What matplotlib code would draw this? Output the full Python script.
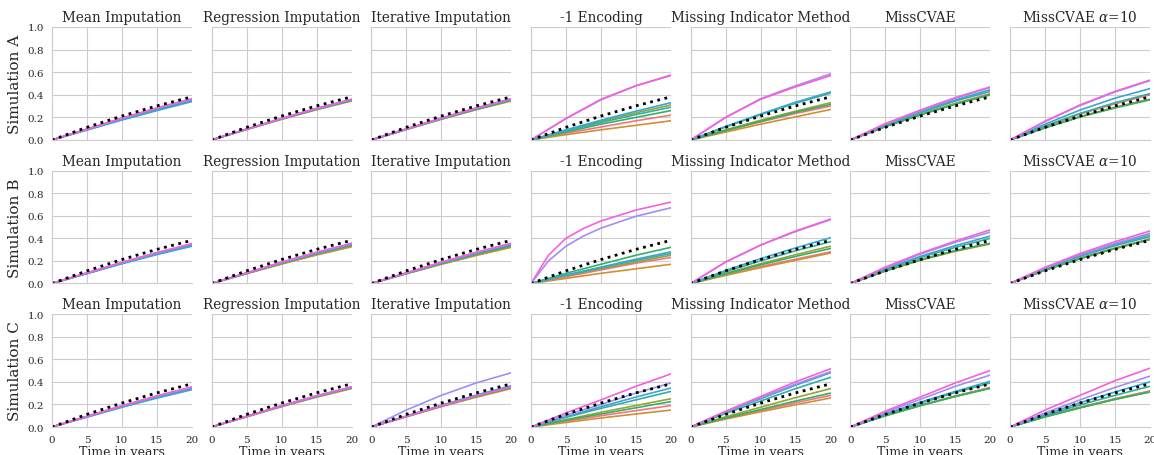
import matplotlib
matplotlib.use("Agg")
import matplotlib.pyplot as plt
import seaborn as sns

sns.set_style("whitegrid")
plt.rcParams["font.family"] = ["DejaVu Serif"]
plt.rcParams["mathtext.fontset"] = "dejavuserif"

# Risque cumulé évalué à t = 0, 5, 10, 15, 20 ans
years = [0, 5, 10, 15, 20]
# grille plus fine pour le panneau -1 Encoding / Simulation B (courbes très concaves)
years_fine = [0, 2.5, 5, 7.5, 10, 15, 20]
true_risk = [0.0, 0.112, 0.212, 0.302, 0.382]

methods = ["Mean Imputation", "Regression Imputation", "Iterative Imputation",
           "-1 Encoding", "Missing Indicator Method", "MissCVAE",
           r"MissCVAE $\alpha$=10"]
simulations = ["Simulation A", "Simulation B", "Simulation C"]

# une ligne par niveau de hue (rouge, orange, olive, vert, sarcelle, bleu, violet, rose)
# valeurs à t = 5, 10, 15, 20
a_mean = [[0.095, 0.19, 0.28, 0.36], [0.095, 0.19, 0.28, 0.36],
          [0.093, 0.185, 0.27, 0.35], [0.093, 0.185, 0.27, 0.35],
          [0.09, 0.18, 0.265, 0.345], [0.088, 0.177, 0.26, 0.34],
          [0.095, 0.19, 0.28, 0.36], [0.097, 0.193, 0.285, 0.365]]
a_regr = [[0.095, 0.188, 0.275, 0.355], [0.093, 0.183, 0.268, 0.345],
          [0.094, 0.186, 0.272, 0.35], [0.094, 0.186, 0.272, 0.35],
          [0.095, 0.188, 0.275, 0.355], [0.095, 0.188, 0.276, 0.356],
          [0.096, 0.19, 0.28, 0.36], [0.096, 0.19, 0.28, 0.36]]
a_iter = [[0.095, 0.188, 0.275, 0.355], [0.093, 0.183, 0.268, 0.345],
          [0.094, 0.186, 0.272, 0.352], [0.094, 0.186, 0.272, 0.352],
          [0.096, 0.19, 0.278, 0.358], [0.097, 0.192, 0.281, 0.362],
          [0.097, 0.192, 0.282, 0.363], [0.098, 0.194, 0.284, 0.365]]
a_neg1 = [[0.06, 0.115, 0.17, 0.22], [0.047, 0.09, 0.13, 0.17],
          [0.085, 0.165, 0.24, 0.31], [0.07, 0.14, 0.2, 0.26],
          [0.08, 0.155, 0.225, 0.29], [0.09, 0.175, 0.255, 0.33],
          [0.19, 0.355, 0.48, 0.57], [0.19, 0.36, 0.48, 0.575]]
a_mim = [[0.08, 0.16, 0.235, 0.30], [0.07, 0.14, 0.205, 0.27],
         [0.09, 0.175, 0.255, 0.33], [0.085, 0.165, 0.245, 0.315],
         [0.115, 0.225, 0.325, 0.415], [0.12, 0.23, 0.335, 0.425],
         [0.2, 0.365, 0.48, 0.585], [0.2, 0.36, 0.47, 0.57]]
a_cvae = [[0.12, 0.225, 0.325, 0.41], [0.12, 0.222, 0.318, 0.40],
          [0.12, 0.225, 0.32, 0.405], [0.118, 0.222, 0.318, 0.40],
          [0.13, 0.24, 0.345, 0.43], [0.135, 0.25, 0.355, 0.445],
          [0.14, 0.26, 0.37, 0.465], [0.145, 0.265, 0.375, 0.47]]
a_cvae10 = [[0.12, 0.23, 0.32, 0.40], [0.108, 0.205, 0.287, 0.36],
            [0.11, 0.207, 0.29, 0.36], [0.107, 0.203, 0.284, 0.355],
            [0.125, 0.235, 0.33, 0.41], [0.14, 0.265, 0.37, 0.455],
            [0.165, 0.305, 0.425, 0.525], [0.165, 0.31, 0.43, 0.53]]

b_mean = [[0.092, 0.183, 0.268, 0.345], [0.092, 0.183, 0.268, 0.345],
          [0.09, 0.18, 0.264, 0.34], [0.09, 0.18, 0.264, 0.34],
          [0.089, 0.177, 0.26, 0.335], [0.087, 0.175, 0.256, 0.33],
          [0.093, 0.186, 0.272, 0.35], [0.094, 0.187, 0.274, 0.352]]
b_regr = [[0.088, 0.175, 0.256, 0.33], [0.087, 0.172, 0.252, 0.325],
          [0.089, 0.177, 0.26, 0.335], [0.09, 0.18, 0.264, 0.34],
          [0.092, 0.183, 0.268, 0.345], [0.092, 0.183, 0.268, 0.345],
          [0.094, 0.188, 0.276, 0.355], [0.094, 0.188, 0.276, 0.355]]
b_iter = [[0.087, 0.172, 0.252, 0.325], [0.086, 0.17, 0.248, 0.32],
          [0.088, 0.175, 0.256, 0.33], [0.089, 0.177, 0.26, 0.335],
          [0.09, 0.18, 0.264, 0.34], [0.092, 0.183, 0.268, 0.345],
          [0.094, 0.188, 0.276, 0.355], [0.094, 0.188, 0.276, 0.355]]
# valeurs à t = 2.5, 5, 7.5, 10, 15, 20
b_neg1 = [[0.03, 0.06, 0.09, 0.12, 0.18, 0.23],
          [0.023, 0.045, 0.068, 0.09, 0.13, 0.17],
          [0.035, 0.07, 0.1, 0.13, 0.19, 0.25],
          [0.045, 0.09, 0.13, 0.17, 0.25, 0.32],
          [0.036, 0.072, 0.106, 0.14, 0.205, 0.265],
          [0.038, 0.075, 0.11, 0.145, 0.215, 0.28],
          [0.2, 0.33, 0.42, 0.49, 0.595, 0.67],
          [0.25, 0.4, 0.487, 0.553, 0.65, 0.72]]
b_mim = [[0.075, 0.15, 0.215, 0.28], [0.072, 0.14, 0.205, 0.27],
         [0.09, 0.175, 0.255, 0.33], [0.085, 0.165, 0.24, 0.31],
         [0.105, 0.2, 0.29, 0.37], [0.115, 0.22, 0.315, 0.405],
         [0.19, 0.34, 0.46, 0.565], [0.19, 0.34, 0.465, 0.57]]
b_cvae = [[0.112, 0.21, 0.29, 0.355], [0.11, 0.205, 0.285, 0.35],
          [0.112, 0.21, 0.29, 0.355], [0.112, 0.21, 0.29, 0.355],
          [0.125, 0.23, 0.32, 0.40], [0.13, 0.24, 0.335, 0.42],
          [0.14, 0.26, 0.365, 0.455], [0.145, 0.268, 0.375, 0.475]]
b_cvae10 = [[0.12, 0.225, 0.315, 0.395], [0.118, 0.22, 0.31, 0.39],
            [0.118, 0.22, 0.31, 0.39], [0.118, 0.22, 0.31, 0.39],
            [0.13, 0.24, 0.335, 0.415], [0.133, 0.245, 0.345, 0.43],
            [0.138, 0.255, 0.355, 0.445], [0.143, 0.265, 0.37, 0.465]]

c_mean = [[0.093, 0.186, 0.272, 0.35], [0.092, 0.183, 0.268, 0.345],
          [0.092, 0.183, 0.268, 0.345], [0.092, 0.183, 0.268, 0.345],
          [0.089, 0.177, 0.26, 0.335], [0.087, 0.175, 0.256, 0.33],
          [0.093, 0.186, 0.272, 0.35], [0.094, 0.188, 0.276, 0.355]]
c_regr = [[0.092, 0.183, 0.268, 0.345], [0.09, 0.18, 0.264, 0.34],
          [0.092, 0.183, 0.268, 0.345], [0.093, 0.186, 0.272, 0.35],
          [0.093, 0.186, 0.272, 0.35], [0.093, 0.186, 0.272, 0.35],
          [0.094, 0.188, 0.276, 0.355], [0.094, 0.188, 0.276, 0.355]]
c_iter = [[0.092, 0.183, 0.268, 0.345], [0.09, 0.18, 0.264, 0.34],
          [0.093, 0.186, 0.272, 0.35], [0.093, 0.186, 0.272, 0.35],
          [0.094, 0.188, 0.276, 0.355], [0.097, 0.193, 0.283, 0.365],
          [0.15, 0.28, 0.39, 0.48], [0.094, 0.188, 0.276, 0.355]]
c_neg1 = [[0.05, 0.1, 0.145, 0.19], [0.04, 0.08, 0.115, 0.15],
          [0.065, 0.13, 0.19, 0.25], [0.06, 0.115, 0.17, 0.225],
          [0.085, 0.165, 0.24, 0.315], [0.09, 0.18, 0.265, 0.345],
          [0.105, 0.2, 0.3, 0.39], [0.125, 0.24, 0.36, 0.47]]
c_mim = [[0.075, 0.145, 0.215, 0.28], [0.07, 0.135, 0.197, 0.257],
         [0.09, 0.175, 0.26, 0.34], [0.08, 0.155, 0.23, 0.30],
         [0.12, 0.23, 0.34, 0.44], [0.13, 0.25, 0.37, 0.48],
         [0.135, 0.26, 0.38, 0.49], [0.14, 0.27, 0.40, 0.515]]
c_cvae = [[0.1, 0.19, 0.275, 0.35], [0.1, 0.19, 0.272, 0.345],
          [0.1, 0.19, 0.27, 0.343], [0.1, 0.19, 0.27, 0.343],
          [0.11, 0.21, 0.305, 0.39], [0.115, 0.22, 0.315, 0.405],
          [0.13, 0.245, 0.36, 0.46], [0.14, 0.265, 0.39, 0.50]]
c_cvae10 = [[0.092, 0.175, 0.25, 0.32], [0.09, 0.172, 0.247, 0.315],
            [0.09, 0.17, 0.245, 0.31], [0.09, 0.17, 0.245, 0.31],
            [0.1, 0.195, 0.28, 0.36], [0.11, 0.215, 0.31, 0.40],
            [0.125, 0.24, 0.35, 0.45], [0.15, 0.28, 0.41, 0.52]]

results = [
    [a_mean, a_regr, a_iter, a_neg1, a_mim, a_cvae, a_cvae10],
    [b_mean, b_regr, b_iter, b_neg1, b_mim, b_cvae, b_cvae10],
    [c_mean, c_regr, c_iter, c_neg1, c_mim, c_cvae, c_cvae10],
]

palette = sns.color_palette("husl", 8)

fig, axes = plt.subplots(3, 7, figsize=(11.54, 4.56), dpi=100,
                         sharex=True, sharey=True)
fig.subplots_adjust(left=0.045, right=0.9965, top=0.9386, bottom=0.0614,
                    wspace=0.141, hspace=0.27)

for i, sim in enumerate(simulations):
    for j, method in enumerate(methods):
        ax = axes[i, j]
        for k, curve in enumerate(results[i][j]):
            t = years_fine if len(curve) == len(years_fine) - 1 else years
            ax.plot(t, [0.0] + curve, color=palette[k], lw=1.2)
        ax.plot(years, true_risk, color="black", ls=":", lw=2)
        ax.set_title(method, fontsize=9.8, pad=4)
        ax.set_xlim(0, 20)
        ax.set_ylim(0, 1)
        ax.set_xticks([0, 5, 10, 15, 20])
        ax.set_yticks([0, 0.2, 0.4, 0.6, 0.8, 1.0])
        # grille verticale sans la ligne du bord droit (t = 20)
        ax.xaxis.remove_overlapping_locs = False
        ax.set_xticks([0, 5, 10, 15], minor=True)
        ax.grid(False, which="major", axis="x")
        ax.grid(True, which="minor", axis="x")
        ax.tick_params(labelsize=7.5, pad=2)
        if j == 0:
            ax.set_ylabel(sim, fontsize=11)
        if i == 2:
            ax.set_xlabel("Time in years", fontsize=9, labelpad=1)
        sns.despine(ax=ax)

plt.savefig("out.png", dpi=100)
